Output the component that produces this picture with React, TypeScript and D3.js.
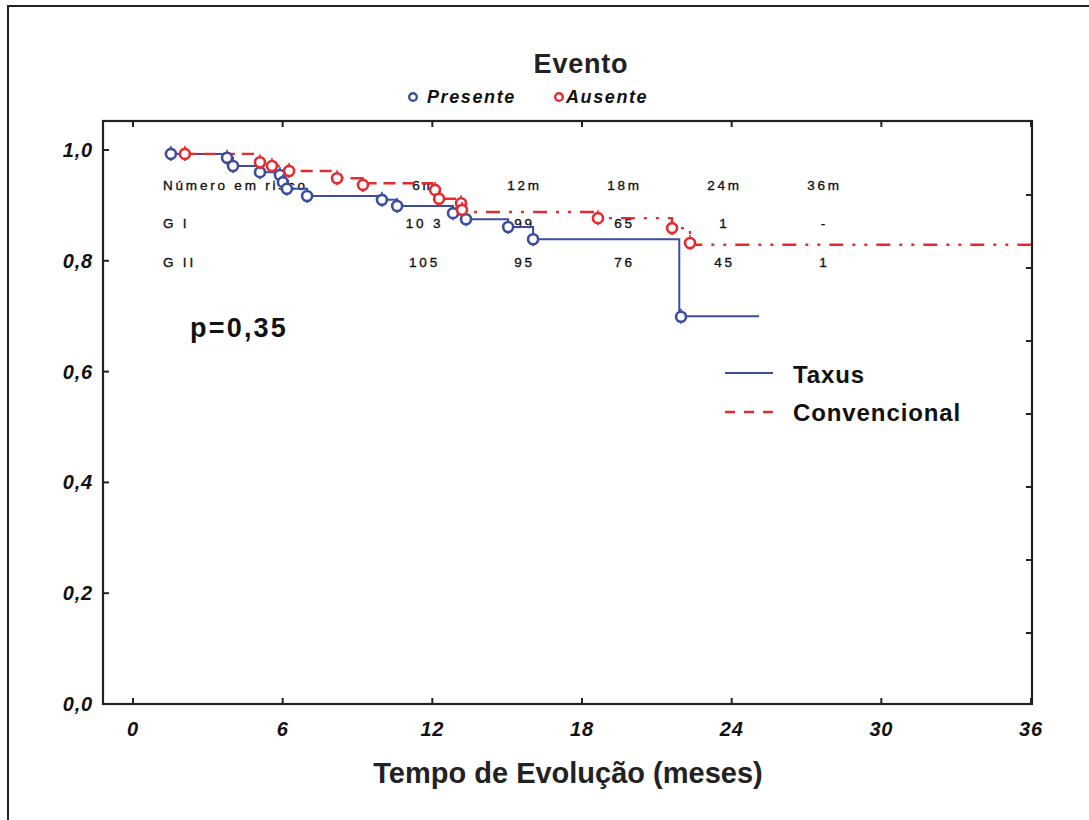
import React from "react";
import * as d3 from "d3";

// ---------- data ----------
const xTicks = [0, 6, 12, 18, 24, 30, 36];
const yTicks = [0, 0.2, 0.4, 0.6, 0.8, 1.0];
const yTickLabels = ["0,0", "0,2", "0,4", "0,6", "0,8", "1,0"];
const rightTicks = [1, 2, 3, 4, 5, 6, 7];

// Taxus (blue, solid) Kaplan-Meier steps
const taxusTimes = [1.5, 3.77, 4.01, 5.09, 5.89, 6.01, 6.17, 6.98, 9.98, 10.59, 12.83, 13.35, 15.04, 16.04, 21.9];
const taxusSurv = [0.993, 0.986, 0.971, 0.96, 0.955, 0.942, 0.93, 0.917, 0.91, 0.899, 0.886, 0.875, 0.861, 0.839, 0.7];
const taxusEnd = 25.1;
const taxusCensorTimes = [1.52, 3.77, 4.01, 5.09, 5.89, 6.01, 6.17, 6.98, 9.98, 10.59, 12.83, 13.35, 15.04, 16.04, 21.97];
const taxusCensorSurv = [0.993, 0.986, 0.971, 0.96, 0.955, 0.942, 0.93, 0.917, 0.91, 0.899, 0.886, 0.875, 0.861, 0.839, 0.699];

// Convencional (red, dashed) Kaplan-Meier steps
const convTimes = [2.08, 5.0, 5.57, 6.26, 8.18, 9.22, 12.11, 12.27, 13.19, 18.64, 21.61, 22.33];
const convSurv = [0.993, 0.978, 0.971, 0.962, 0.949, 0.94, 0.928, 0.912, 0.888, 0.877, 0.859, 0.829];
const convEnd = 36;
const convSplitTime = 13.19;
const convCensorTimes = [2.08, 5.09, 5.57, 6.26, 8.18, 9.22, 12.11, 12.27, 13.15, 13.19, 18.64, 21.61, 22.33];
const convCensorSurv = [0.993, 0.978, 0.971, 0.962, 0.949, 0.937, 0.928, 0.912, 0.904, 0.892, 0.877, 0.859, 0.832];

// number-at-risk table
const riskHeaders = ["6m", "12m", "18m", "24m", "36m"];
const riskRowLabels = ["Número em risco", "G I", "G II"];
const riskGI = ["10 3", "99", "65", "1", "-"];
const riskGII = ["105", "95", "76", "45", "1"];

const legendTitle = "Evento";
const eventLabels = ["Presente", "Ausente"];
const seriesLabels = ["Taxus", "Convencional"];
const pValueText = "p=0,35";
const xTitle = "Tempo de Evolução (meses)";

// ---------- styles ----------
const BLUE = "#3c4d9e";
const RED = "#e52b2f";
const FONT = "'Liberation Sans', Arial, sans-serif";

const W = 1089;
const H = 820;
const plot = { left: 103, right: 1032, top: 121, bottom: 704 };

export default function App() {
  const x = d3.scaleLinear().domain([0, 36]).range([133, 1031]);
  const y = d3.scaleLinear().domain([0, 1]).range([704, 150]);
  const yR = d3.scaleLinear().domain([0, 8]).range([706, 122]);
  const riskX = d3.scalePoint<string>().domain(riskHeaders).range([423, 823]);

  const stepLine = d3
    .line<[number, number]>()
    .x((d) => x(d[0]))
    .y((d) => y(d[1]))
    .curve(d3.curveStepAfter);

  const taxusPts: [number, number][] = taxusTimes.map((t, i) => [t, taxusSurv[i]]);
  taxusPts.push([taxusEnd, taxusSurv[taxusSurv.length - 1]]);

  const convAll: [number, number][] = convTimes.map((t, i) => [t, convSurv[i]]);
  convAll.push([convEnd, convSurv[convSurv.length - 1]]);
  const convA = convAll.filter((d) => d[0] <= convSplitTime);
  const convB = convAll.filter((d) => d[0] >= convSplitTime);

  const marker = (cx: number, cy: number, color: string, key: string) => (
    <g key={key}>
      <line x1={cx} x2={cx} y1={cy - 8} y2={cy + 7} stroke={color} strokeWidth={1.6} />
      <circle cx={cx} cy={cy} r={5} fill="white" stroke={color} strokeWidth={2.6} />
    </g>
  );

  return (
    <svg
      width={W}
      height={H}
      style={{ position: "absolute", left: 0, top: 0, background: "white" }}
      fontFamily={FONT}
    >
      {/* outer frame */}
      <rect x={8} y={6} width={W} height={H} fill="none" stroke="#222" strokeWidth={2} />

      {/* title + event legend */}
      <text x={581} y={73} textAnchor="middle" fontSize={27} fontWeight="bold" fill="#222" letterSpacing={0.8}>
        {legendTitle}
      </text>
      <circle cx={413} cy={97} r={3.8} fill="white" stroke={BLUE} strokeWidth={2.4} />
      <text x={427} y={103} fontSize={18} fontWeight="bold" fontStyle="italic" fill="#111" letterSpacing={1.6}>
        {eventLabels[0]}
      </text>
      <circle cx={559} cy={97} r={3.8} fill="white" stroke={RED} strokeWidth={2.4} />
      <text x={566} y={103} fontSize={18} fontWeight="bold" fontStyle="italic" fill="#111" letterSpacing={1.6}>
        {eventLabels[1]}
      </text>

      {/* plot box */}
      <rect
        x={plot.left}
        y={plot.top}
        width={plot.right - plot.left}
        height={plot.bottom - plot.top}
        fill="none"
        stroke="#222"
        strokeWidth={2.2}
      />

      {/* ticks */}
      {xTicks.map((t) => (
        <g key={"xt" + t}>
          <line x1={x(t)} x2={x(t)} y1={plot.bottom} y2={plot.bottom - 6} stroke="#222" strokeWidth={2} />
          <line x1={x(t)} x2={x(t)} y1={plot.top} y2={plot.top + 6} stroke="#222" strokeWidth={2} />
          <text
            x={x(t)}
            y={736}
            textAnchor="middle"
            fontSize={20}
            fontWeight="bold"
            fontStyle="italic"
            fill="#111"
            letterSpacing={0.8}
          >
            {t}
          </text>
        </g>
      ))}
      {yTicks.map((v, i) => (
        <g key={"yt" + v}>
          <line x1={plot.left} x2={plot.left + 6} y1={y(v)} y2={y(v)} stroke="#222" strokeWidth={2} />
          <text
            x={93}
            y={y(v) + 7}
            textAnchor="end"
            fontSize={20}
            fontWeight="bold"
            fontStyle="italic"
            fill="#111"
            letterSpacing={0.8}
          >
            {yTickLabels[i]}
          </text>
        </g>
      ))}
      {rightTicks.map((v) => (
        <line key={"rt" + v} x1={plot.right} x2={plot.right - 6} y1={yR(v)} y2={yR(v)} stroke="#222" strokeWidth={2} />
      ))}

      {/* number at risk table */}
      <g fontSize={13.5} fill="#111" stroke="#111" strokeWidth={0.35} letterSpacing={2.8}>
        <text x={163} y={190}>{riskRowLabels[0]}</text>
        <text x={163} y={228}>{riskRowLabels[1]}</text>
        <text x={163} y={267}>{riskRowLabels[2]}</text>
        {riskHeaders.map((h, i) => (
          <g key={"rk" + h}>
            <text x={(riskX(h) as number) + 1.5} y={190} textAnchor="middle">{h}</text>
            <text x={(riskX(h) as number) + 1.5} y={228} textAnchor="middle">{riskGI[i]}</text>
            <text x={(riskX(h) as number) + 1.5} y={267} textAnchor="middle">{riskGII[i]}</text>
          </g>
        ))}
      </g>

      {/* curves */}
      <path d={stepLine(taxusPts) || ""} fill="none" stroke={BLUE} strokeWidth={2} />
      <path d={stepLine(convA) || ""} fill="none" stroke={RED} strokeWidth={2.4} strokeDasharray="12 7" />
      <path d={stepLine(convB) || ""} fill="none" stroke={RED} strokeWidth={2.4} strokeDasharray="3 9 3 9 14 9" />

      {taxusCensorTimes.map((t, i) => marker(x(t), y(taxusCensorSurv[i]), BLUE, "tc" + i))}
      {convCensorTimes.map((t, i) => marker(x(t), y(convCensorSurv[i]), RED, "cc" + i))}

      {/* p value */}
      <text x={190} y={337} fontSize={27} fontWeight="bold" fill="#111" letterSpacing={2.2}>
        {pValueText}
      </text>

      {/* series legend */}
      <line x1={725} x2={773} y1={373} y2={373} stroke={BLUE} strokeWidth={2.2} />
      <line x1={725} x2={773} y1={412} y2={412} stroke={RED} strokeWidth={2.6} strokeDasharray="10 9" />
      <text x={793} y={383} fontSize={24} fontWeight="bold" fill="#111" letterSpacing={0.9}>
        {seriesLabels[0]}
      </text>
      <text x={793} y={421} fontSize={24} fontWeight="bold" fill="#111" letterSpacing={0.9}>
        {seriesLabels[1]}
      </text>

      {/* x axis title */}
      <text x={568} y={783} textAnchor="middle" fontSize={29} fontWeight="bold" fill="#222">
        {xTitle}
      </text>
    </svg>
  );
}
